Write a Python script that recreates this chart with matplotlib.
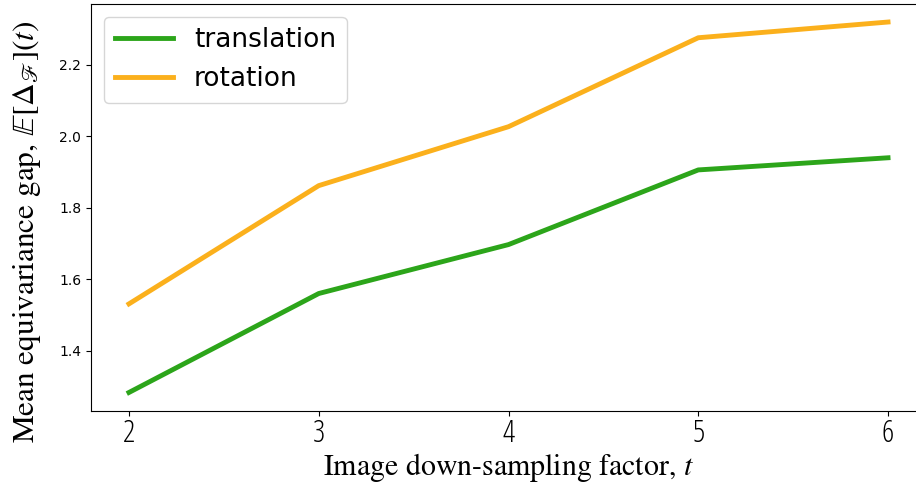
import matplotlib
matplotlib.use("Agg")
import matplotlib.pyplot as plt
from matplotlib import font_manager

factors = [2, 3, 4, 5, 6]
translation_gap = [1.283, 1.560, 1.697, 1.906, 1.940]
rotation_gap = [1.531, 1.862, 2.027, 2.276, 2.320]

plt.rcParams["mathtext.fontset"] = "stix"

# narrow font for the x tick labels, if there is one
names = {f.name for f in font_manager.fontManager.ttflist}
narrow = "DejaVu Sans"
for cand in ["DejaVu Sans Condensed", "Liberation Sans Narrow", "Open Sans"]:
    if cand in names:
        narrow = cand
        break

fig = plt.figure(figsize=(9.16, 4.92), dpi=100)
# original figure was cropped on the right, so the axes run past the edge
ax = fig.add_axes([91 / 916, 81 / 492, 835 / 916, 407.5 / 492])

ax.plot(factors, translation_gap, color="#2ca51a", linewidth=3.5, label="translation")
ax.plot(factors, rotation_gap, color="#fbb01c", linewidth=3.5, label="rotation")

ax.set_xticks(factors)
ax.set_yticks([1.4, 1.6, 1.8, 2.0, 2.2])
for lab in ax.get_xticklabels():
    lab.set_fontfamily(narrow)
    lab.set_fontstretch("condensed")
    lab.set_fontsize(22)
ax.tick_params(axis="x", pad=1.5)
ax.tick_params(axis="y", labelsize=10)

ax.set_xlabel("Image down-sampling factor, $t$", family="STIXGeneral", fontsize=21.5,
              labelpad=1)
ax.set_ylabel(r"Mean equivariance gap, $\mathbb{E}[\Delta_{\mathscr{F}}](t)$",
              family="STIXGeneral", fontsize=22.5)
ax.yaxis.set_label_coords(-0.058, 0.44)

ax.legend(loc="upper left", fontsize=19, handlelength=2.2)

fig.savefig("out.png", dpi=100)
